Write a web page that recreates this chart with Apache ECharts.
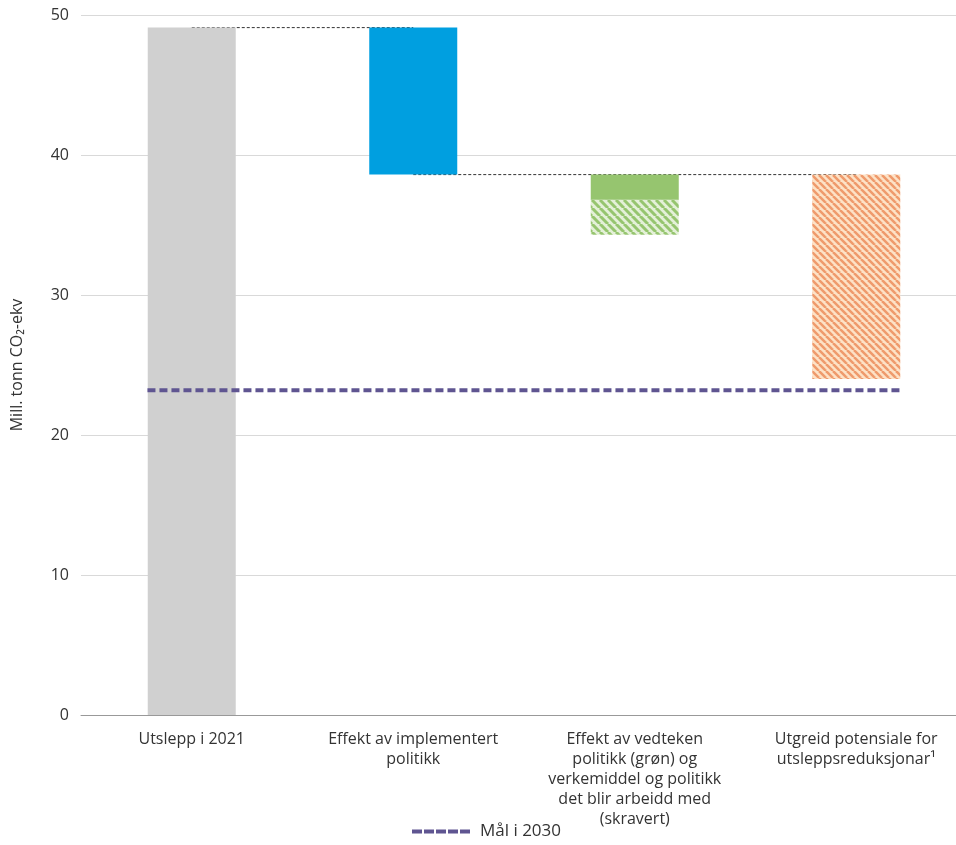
<!DOCTYPE html>
<html>
<head>
<meta charset="utf-8">
<script src="https://cdn.jsdelivr.net/npm/echarts@6/dist/echarts.min.js"></script>
<style>
  html, body { margin: 0; padding: 0; background: #fff; overflow: hidden; }
  #main { width: 967px; height: 845px; }
</style>
</head>
<body>
<div id="main"></div>
<script>
var dom = document.getElementById('main');
var myChart = echarts.init(dom);

var categories = [
    'Utslepp i 2021',
    'Effekt av implementert\npolitikk',
    'Effekt av vedteken\npolitikk (grøn) og\nverkemiddel og politikk\ndet blir arbeidd med\n(skravert)',
    'Utgreid potensiale for\nutsleppsreduksjonar¹'
];

// levels in mill. tonn CO2-ekv
var emissions2021 = 49.1;
var afterImplemented = 38.6;
var afterAdopted = 36.8;
var afterWorkedOn = 34.3;
var afterPotential = 24.0;
var target2030 = 23.2;

// hatch pattern, stripes going down to the right
function hatch(bg, fg, size, lw) {
    var c = document.createElement('canvas');
    c.width = size; c.height = size;
    var ctx = c.getContext('2d');
    ctx.fillStyle = bg;
    ctx.fillRect(0, 0, size, size);
    ctx.strokeStyle = fg;
    ctx.lineWidth = lw;
    for (var k = -1; k <= 1; k++) {
        ctx.beginPath();
        ctx.moveTo(k * size, 0);
        ctx.lineTo(k * size + size, size);
        ctx.stroke();
    }
    return { image: c, repeat: 'repeat' };
}

var font = '"Open Sans", "Noto Sans", sans-serif';
var targetColor = '#5f5591';

var option = {
    animation: false,
    textStyle: { fontFamily: font },
    grid: { left: 81, right: 0, top: 15, bottom: 130 },
    legend: {
        bottom: 0,
        left: 407,
        data: [{
            name: 'Mål i 2030',
            icon: 'path://M0,0h10v4h-10z M12,0h10v4h-10z M24,0h10v4h-10z M36,0h10v4h-10z M48,0h10v4h-10z'
        }],
        itemWidth: 58,
        itemHeight: 4,
        itemStyle: { color: targetColor },
        textStyle: { fontSize: 17, color: '#333', fontFamily: font, padding: [0, 0, 0, 5] }
    },
    xAxis: [{
        type: 'category',
        data: categories,
        axisLine: { lineStyle: { color: '#999' } },
        axisTick: { show: false },
        axisLabel: {
            interval: 0,
            margin: 14,
            fontSize: 16,
            lineHeight: 20,
            color: '#333',
            fontFamily: font
        }
    }, {
        type: 'value',
        min: 0,
        max: 4,
        show: false
    }],
    yAxis: {
        type: 'value',
        min: 0,
        max: 50,
        interval: 10,
        name: 'Mill. tonn CO₂-ekv',
        nameLocation: 'middle',
        nameGap: 56,
        nameTextStyle: { fontSize: 16, color: '#333', fontFamily: font },
        axisLine: { show: false },
        axisTick: { show: false },
        axisLabel: { fontSize: 16, color: '#333', margin: 12, fontFamily: font },
        splitLine: { lineStyle: { color: '#d9d9d9' } }
    },
    series: [
        {
            name: 'base',
            type: 'bar',
            stack: 'w',
            barWidth: 88,
            silent: true,
            itemStyle: { color: 'transparent' },
            data: [0, afterImplemented, afterWorkedOn, afterPotential],
            z: 3
        },
        {
            name: 'Utslepp i 2021',
            type: 'bar',
            stack: 'w',
            itemStyle: { color: '#d0d0d0' },
            data: [emissions2021, '-', '-', '-'],
            z: 3
        },
        {
            name: 'Implementert politikk',
            type: 'bar',
            stack: 'w',
            itemStyle: { color: '#009fe0' },
            data: ['-', emissions2021 - afterImplemented, '-', '-'],
            z: 3
        },
        {
            name: 'Arbeidd med (skravert)',
            type: 'bar',
            stack: 'w',
            itemStyle: { color: hatch('#e4f0d8', '#96c56f', 8, 3) },
            data: ['-', '-', afterAdopted - afterWorkedOn, '-'],
            z: 3
        },
        {
            name: 'Vedteken politikk',
            type: 'bar',
            stack: 'w',
            itemStyle: { color: '#96c56f' },
            data: ['-', '-', afterImplemented - afterAdopted, '-'],
            z: 3
        },
        {
            name: 'Utgreid potensiale',
            type: 'bar',
            stack: 'w',
            itemStyle: { color: hatch('#fde2c6', '#ef9a6c', 7, 2.5) },
            data: ['-', '-', '-', afterImplemented - afterPotential],
            z: 3
        },
        {
            name: 'conn1',
            type: 'line',
            xAxisIndex: 1,
            symbol: 'none',
            silent: true,
            lineStyle: { color: '#333', width: 1, type: [3, 2] },
            data: [[0.5, emissions2021], [1.5, emissions2021]],
            z: 2
        },
        {
            name: 'conn2',
            type: 'line',
            xAxisIndex: 1,
            symbol: 'none',
            silent: true,
            lineStyle: { color: '#333', width: 1, type: [3, 2] },
            data: [[1.5, afterImplemented], [3.5, afterImplemented]],
            z: 2
        },
        {
            name: 'Mål i 2030',
            type: 'line',
            xAxisIndex: 1,
            symbol: 'none',
            lineStyle: { color: targetColor, width: 4, type: [8, 4] },
            itemStyle: { color: targetColor },
            data: [[0.3, target2030], [3.7, target2030]],
            z: 5
        }
    ]
};
myChart.setOption(option);
</script>
</body>
</html>
